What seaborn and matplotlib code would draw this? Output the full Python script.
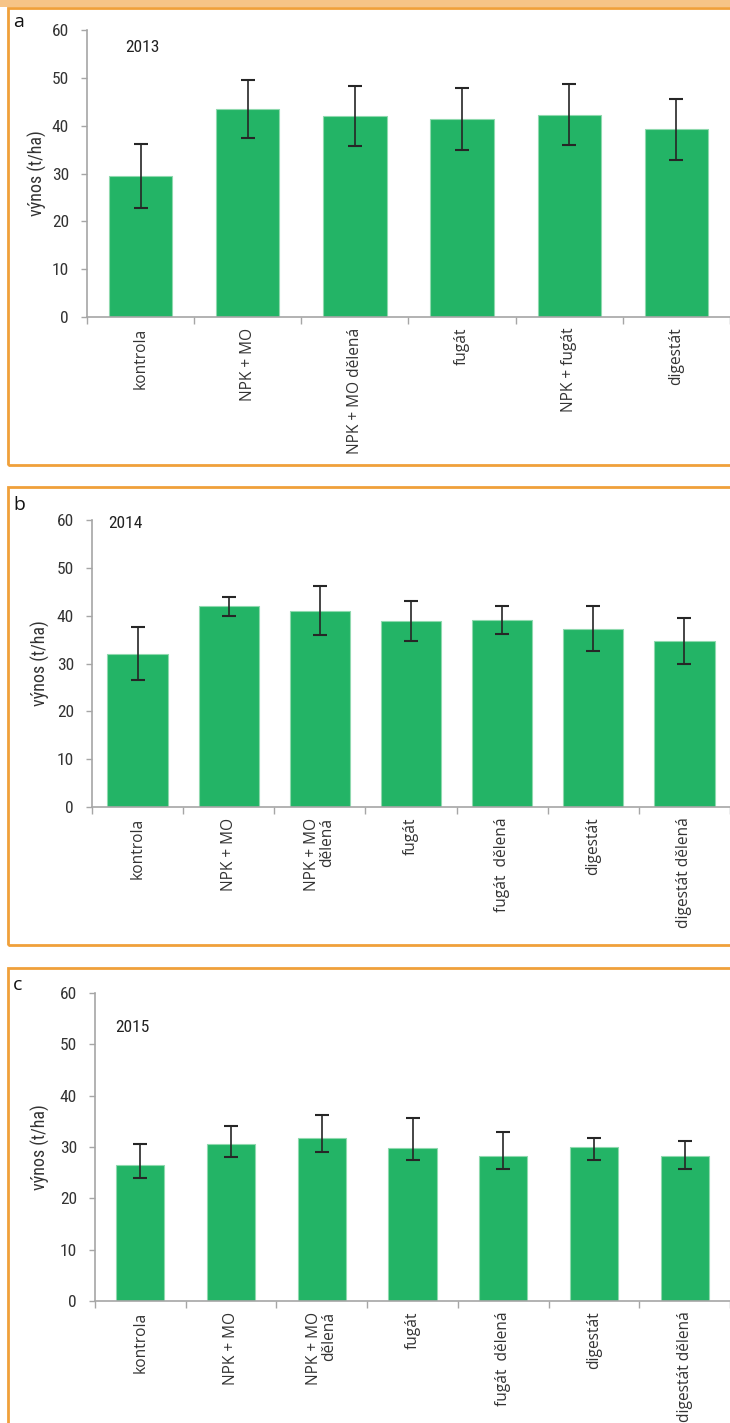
import matplotlib
matplotlib.use("Agg")
import matplotlib.pyplot as plt
import seaborn as sns
import pandas as pd
from matplotlib.patches import Rectangle
from matplotlib.ticker import FixedLocator

# ---- data ----
cats_a = ["kontrola", "NPK + MO", "NPK + MO dělená", "fugát", "NPK + fugát", "digestát"]
vals_a = [29.4, 43.5, 42.0, 41.3, 42.2, 39.2]
lo_a = [22.8, 37.4, 35.7, 34.9, 36.0, 32.8]
hi_a = [36.1, 49.6, 48.3, 47.9, 48.7, 45.6]

cats_b = ["kontrola", "NPK + MO", "NPK + MO\ndělená", "fugát", "fugát  dělená", "digestát", "digestát dělená"]
vals_b = [32.0, 42.0, 41.0, 38.9, 39.0, 37.3, 34.7]
lo_b = [26.6, 40.0, 35.9, 34.8, 36.1, 32.7, 30.0]
hi_b = [37.7, 44.0, 46.2, 43.0, 42.0, 42.0, 39.6]

cats_c = ["kontrola", "NPK + MO", "NPK + MO\ndělená", "fugát", "fugát  dělená", "digestát", "digestát dělená"]
vals_c = [26.5, 30.6, 31.8, 29.9, 28.3, 30.0, 28.3]
lo_c = [24.0, 28.0, 29.0, 27.4, 25.8, 27.5, 25.8]
hi_c = [30.6, 34.0, 36.2, 35.6, 32.9, 31.8, 31.1]

years = ["2013", "2014", "2015"]
letters = ["a", "b", "c"]
ylabel = "výnos (t/ha)"
yticks = [0, 10, 20, 30, 40, 50, 60]

sns.set_theme(style="white")
NUM_FONT = ["Liberation Sans Narrow", "Roboto Condensed", "Roboto", "DejaVu Sans"]
CAT_FONT = ["Open Sans", "DejaVu Sans"]
plt.rcParams["font.family"] = NUM_FONT

W, H = 730, 1423
fig = plt.figure(figsize=(W / 100, H / 100), dpi=100)

BAR = "#23b466"
EDGE = "#8fd9ae"
AX_GREY = "#a6a6a6"
ORANGE = "#f0a03a"

def fx(px):
    return px / W

def fy(py):
    return 1 - py / H

# panel frames
fig.patches.append(Rectangle((0, fy(7)), 1, 7 / H, transform=fig.transFigure,
                             facecolor="#f6c487", edgecolor="none", zorder=0))
frames = [(8, 8, 465), (8, 487, 945), (8, 968, 1440)]
for (l, t, b) in frames:
    fig.patches.append(Rectangle((fx(l), fy(b)), 1.2, (b - t) / H, transform=fig.transFigure,
                                 facecolor="none", edgecolor=ORANGE, linewidth=2.0, zorder=1))

panels = [
    (cats_a, vals_a, lo_a, hi_a, (87, 30, 317), 0.59, 125, 47, 22, 37),
    (cats_b, vals_b, lo_b, hi_b, (92, 520, 807), 0.66, 108, 524, 505, 40),
    (cats_c, vals_c, lo_c, hi_c, (95, 993, 1301), 0.53, 115, 1028, 985, 40),
]

for i, (cats, vals, lo, hi, (l, t, b), bw, yx, yy, ly, ylx) in enumerate(panels):
    ax = fig.add_axes([fx(l), fy(b), fx(730) - fx(l), (b - t) / H])
    df = pd.DataFrame({"cat": cats, "val": vals})
    sns.barplot(data=df, x="cat", y="val", color=BAR, width=bw, saturation=1,
                edgecolor=EDGE, linewidth=0.8, ax=ax, zorder=2)
    centers = [p.get_x() + p.get_width() / 2 for p in ax.patches]
    yerr = [[v - a for v, a in zip(vals, lo)], [c - v for v, c in zip(vals, hi)]]
    ax.errorbar(centers, vals, yerr=yerr, fmt="none", ecolor="#262626",
                elinewidth=1.2, capsize=5, capthick=1.5, zorder=3)
    n = len(cats)
    ax.set_xlim(-0.5, n - 0.5)
    ax.set_ylim(0, 60)
    ax.set_yticks(yticks)
    ax.set_yticklabels([str(v) for v in yticks], fontsize=12.5, color="#333333",
                       family=NUM_FONT)
    ax.xaxis.set_major_locator(FixedLocator([k - 0.5 for k in range(n + 1)]))
    ax.xaxis.set_minor_locator(FixedLocator(list(range(n))))
    ax.set_xticklabels([], minor=False)
    ax.set_xticklabels(cats, minor=True, rotation=90, fontsize=11.2, color="#333333",
                       family=CAT_FONT, ha="center", va="top", multialignment="right",
                       linespacing=0.95)
    ax.tick_params(axis="x", which="major", length=5, color=AX_GREY, width=1, direction="out", bottom=True)
    ax.tick_params(axis="x", which="minor", length=0, pad=7.5)
    ax.tick_params(axis="y", length=4, color=AX_GREY, width=1, direction="out", left=True, pad=9)
    for s in ["top", "right"]:
        ax.spines[s].set_visible(False)
    for s in ["left", "bottom"]:
        ax.spines[s].set_color(AX_GREY)
        ax.spines[s].set_linewidth(1.2)
    ax.set_xlabel("")
    ax.set_ylabel("")
    fig.text(fx(ylx), fy((t + b) / 2), ylabel, rotation=90, ha="center", va="center",
             fontsize=13, color="#333333", family=NUM_FONT)
    fig.text(fx(yx), fy(yy), years[i], ha="left", va="center", fontsize=12.5,
             color="#222222", family=NUM_FONT)
    fig.text(fx(13), fy(ly), letters[i], ha="left", va="center", fontsize=14,
             color="#111111", family=CAT_FONT)

fig.savefig("out.png", dpi=100)
